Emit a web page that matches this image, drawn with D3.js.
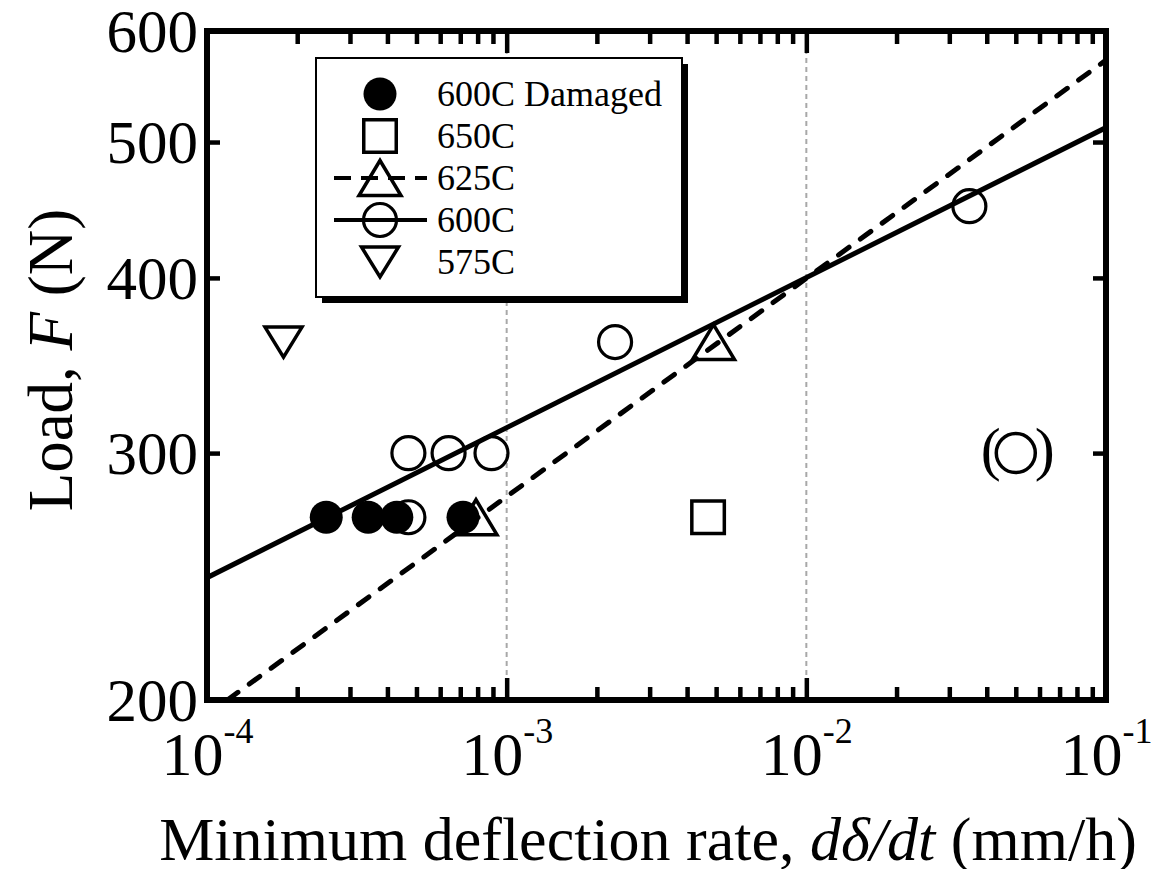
<!DOCTYPE html>
<html>
<head>
<meta charset="utf-8">
<script src="https://cdn.jsdelivr.net/npm/d3@7"></script>
<style>
  html, body { margin: 0; padding: 0; background: #fff; }
  svg { display: block; font-family: "Liberation Serif", "Times New Roman", serif; }
</style>
</head>
<body>
<svg id="chart" width="1156" height="869"></svg>
<script>
// ---- data: minimum deflection rate (mm/h) vs load (N) ----
const rate600Damaged = [2.5e-4, 3.45e-4, 4.3e-4, 7.15e-4];
const load600Damaged = [270, 270, 270, 270];

const rate650 = [4.7e-3];
const load650 = [270];

const rate625 = [7.9e-4, 4.9e-3];
const load625 = [270, 360];

const rate600 = [4.7e-4, 4.7e-4, 6.4e-4, 8.9e-4, 2.3e-3, 3.5e-2];
const load600 = [270, 300, 300, 300, 360, 450];

// point shown in parentheses (excluded from the fit)
const rate600Excluded = [5.0e-2];
const load600Excluded = [300];

const rate575 = [1.8e-4];
const load575 = [360];

// power-law fit lines, given by their end points
const fit600Rate = [1e-4, 1e-1];
const fit600Load = [244.5, 512];
const fit625Rate = [1.17e-4, 1e-1];
const fit625Load = [200, 572];

const xDecades = [1e-4, 1e-3, 1e-2, 1e-1];
const xExponents = ["-4", "-3", "-2", "-1"];
const yTicks = [200, 300, 400, 500, 600];
const gridRates = [1e-3, 1e-2];

const legendLabels = ["600C Damaged", "650C", "625C", "600C", "575C"];
const legendSymbols = ["filled", "square", "triangle", "circle", "triangleDown"];
const legendLines = [null, null, "dashed", "solid", null];

// ---- layout ----
const svg = d3.select("#chart");
const pL = 207, pR = 1106, pT = 31, pB = 700;

const x = d3.scaleLog().domain([1e-4, 1e-1]).range([pL, pR]);
const y = d3.scaleLog().domain([200, 600]).range([pB, pT]);

const DASH = "13,14";

// clip region for the plot contents
svg.append("defs").append("clipPath").attr("id", "plotClip")
  .append("rect").attr("x", pL).attr("y", pT)
  .attr("width", pR - pL).attr("height", pB - pT);

// vertical dotted grid lines
svg.append("g").selectAll("line").data(gridRates).join("line")
  .attr("x1", d => x(d)).attr("x2", d => x(d))
  .attr("y1", pT).attr("y2", pB)
  .attr("stroke", "#a8a8a8").attr("stroke-width", 2)
  .attr("stroke-dasharray", "5,4");

// fit lines
const plot = svg.append("g").attr("clip-path", "url(#plotClip)");
const line = d3.line().x(d => x(d[0])).y(d => y(d[1]));

plot.append("path")
  .attr("d", line(d3.zip(fit600Rate, fit600Load)))
  .attr("fill", "none").attr("stroke", "#000").attr("stroke-width", 5);

plot.append("path")
  .attr("d", line(d3.zip(fit625Rate, fit625Load)))
  .attr("fill", "none").attr("stroke", "#000").attr("stroke-width", 5)
  .attr("stroke-dasharray", DASH).attr("stroke-linecap", "round");

// marker drawing helper
function drawMarker(g, type, cx, cy) {
  if (type === "filled") {
    g.append("circle").attr("cx", cx).attr("cy", cy).attr("r", 16.5).attr("fill", "#000");
  } else if (type === "circle") {
    g.append("circle").attr("cx", cx).attr("cy", cy).attr("r", 16.5)
      .attr("fill", "none").attr("stroke", "#000").attr("stroke-width", 3.2);
  } else if (type === "square") {
    const s = 32.5;
    g.append("rect").attr("x", cx - s / 2).attr("y", cy - s / 2)
      .attr("width", s).attr("height", s)
      .attr("fill", "none").attr("stroke", "#000").attr("stroke-width", 3.5);
  } else if (type === "triangle") {
    const w = 21, h = 17.5;
    g.append("path")
      .attr("d", `M${cx},${cy - h}L${cx + w},${cy + h}L${cx - w},${cy + h}Z`)
      .attr("fill", "none").attr("stroke", "#000").attr("stroke-width", 3.5)
      .attr("stroke-linejoin", "miter");
  } else if (type === "triangleDown") {
    const w = 18.5, h = 15;
    g.append("path")
      .attr("d", `M${cx - w},${cy - h}L${cx + w},${cy - h}L${cx},${cy + h}Z`)
      .attr("fill", "none").attr("stroke", "#000").attr("stroke-width", 3.5);
  }
}

const marks = svg.append("g");
const series = [
  [rate575, load575, "triangleDown"],
  [rate650, load650, "square"],
  [rate625, load625, "triangle"],
  [rate600, load600, "circle"],
  [rate600Damaged, load600Damaged, "filled"]
];
series.forEach(([rates, loads, type]) => {
  rates.forEach((r, i) => drawMarker(marks, type, x(r), y(loads[i])));
});

// excluded point: slightly larger circle between parentheses
rate600Excluded.forEach((r, i) => {
  const cx = x(r), cy = y(load600Excluded[i]);
  marks.append("circle").attr("cx", cx).attr("cy", cy).attr("r", 19.5)
    .attr("fill", "none").attr("stroke", "#000").attr("stroke-width", 3.5);
  marks.append("text").attr("x", cx - 25).attr("y", cy + 16)
    .attr("text-anchor", "middle").attr("font-size", 60).text("(");
  marks.append("text").attr("x", cx + 29).attr("y", cy + 16)
    .attr("text-anchor", "middle").attr("font-size", 60).text(")");
});

// ---- legend ----
const lg = svg.append("g");
const lgX = 316, lgY = 58, lgW = 366, lgH = 239;
lg.append("rect").attr("x", lgX + 6).attr("y", lgY + 6)
  .attr("width", lgW).attr("height", lgH).attr("fill", "#000");
lg.append("rect").attr("x", lgX).attr("y", lgY)
  .attr("width", lgW).attr("height", lgH)
  .attr("fill", "#fff").attr("stroke", "#000").attr("stroke-width", 2);

legendLabels.forEach((label, i) => {
  const ry = 94 + 42 * i;
  if (legendLines[i]) {
    const l = lg.append("line").attr("x1", 334).attr("x2", 427)
      .attr("y1", ry).attr("y2", ry)
      .attr("stroke", "#000").attr("stroke-width", 4);
    if (legendLines[i] === "dashed") l.attr("stroke-dasharray", "17,10");
  }
  drawMarker(lg, legendSymbols[i], 380, ry);
  lg.append("text").attr("x", 437).attr("y", ry + 12)
    .attr("font-size", 36).text(label);
});

// ---- frame and axes ----
const minorRates = [];
for (let e = -4; e < -1; e++) {
  for (let m = 2; m <= 9; m++) minorRates.push(m * Math.pow(10, e));
}

function styleAxis(g) {
  g.select(".domain").remove();
  g.selectAll(".tick line").attr("stroke", "#000").attr("stroke-width", 4.5);
}

// bottom: major ticks with labels
const xAxisMajor = svg.append("g").attr("transform", `translate(0,${pB})`)
  .call(d3.axisBottom(x).tickValues(xDecades).tickSize(-22).tickFormat(""))
  .call(styleAxis);
xAxisMajor.selectAll(".tick").each(function (d, i) {
  const t = d3.select(this).select("text")
    .attr("y", 75).attr("dy", 0).attr("font-size", 62)
    .attr("font-family", "Liberation Serif").attr("fill", "#000")
    .attr("text-anchor", "middle");
  t.append("tspan").text("10");
  t.append("tspan").attr("dy", -32).attr("font-size", 36).text(xExponents[i]);
});
svg.append("g").attr("transform", `translate(0,${pB})`)
  .call(d3.axisBottom(x).tickValues(minorRates).tickSize(-13).tickFormat(""))
  .call(styleAxis);

// top: ticks only
svg.append("g").attr("transform", `translate(0,${pT})`)
  .call(d3.axisTop(x).tickValues(xDecades).tickSize(-22).tickFormat(""))
  .call(styleAxis);
svg.append("g").attr("transform", `translate(0,${pT})`)
  .call(d3.axisTop(x).tickValues(minorRates).tickSize(-13).tickFormat(""))
  .call(styleAxis);

// left: labelled
svg.append("g").attr("transform", `translate(${pL},0)`)
  .call(d3.axisLeft(y).tickValues(yTicks).tickSize(-13).tickPadding(9).tickFormat(d3.format("d")))
  .call(styleAxis)
  .selectAll("text")
  .attr("font-size", 61).attr("font-family", "Liberation Serif").attr("fill", "#000")
  .attr("dy", "0.34em");

// right: ticks only
svg.append("g").attr("transform", `translate(${pR},0)`)
  .call(d3.axisRight(y).tickValues(yTicks).tickSize(-13).tickFormat(""))
  .call(styleAxis);

svg.append("rect").attr("x", pL).attr("y", pT)
  .attr("width", pR - pL).attr("height", pB - pT)
  .attr("fill", "none").attr("stroke", "#000").attr("stroke-width", 6);

// axis titles
const xt = svg.append("text").attr("x", 648).attr("y", 860)
  .attr("text-anchor", "middle").attr("font-size", 62);
xt.append("tspan").text("Minimum deflection rate, ");
xt.append("tspan").attr("font-style", "italic").text("dδ/dt");
xt.append("tspan").text(" (mm/h)");

const yt = svg.append("text")
  .attr("transform", "translate(72,360) rotate(-90)")
  .attr("text-anchor", "middle").attr("font-size", 63);
yt.append("tspan").text("Load, ");
yt.append("tspan").attr("font-style", "italic").text("F");
yt.append("tspan").text(" (N)");
</script>
</body>
</html>
